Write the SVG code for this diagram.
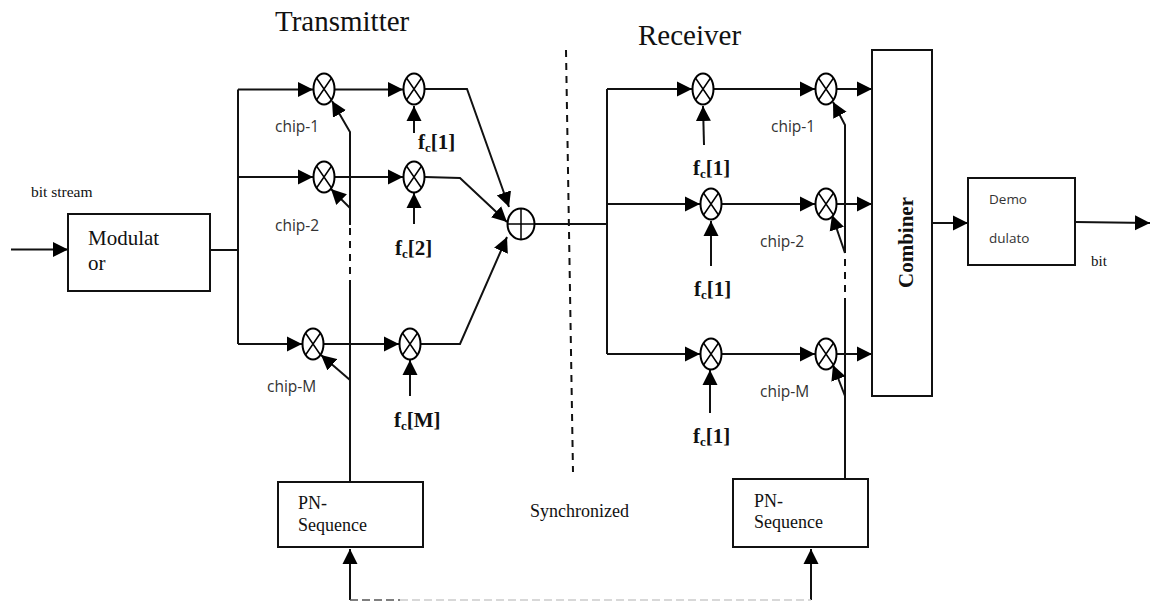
<svg xmlns="http://www.w3.org/2000/svg" width="1151" height="601" viewBox="0 0 1151 601">
<style>
.s{font-family:"Liberation Serif","Times New Roman",serif;fill:#111}
.c{font-family:"Open Sans","Noto Sans",sans-serif;font-size:15.500px;fill:#333}
.b{font-family:"Liberation Serif","Times New Roman",serif;font-weight:bold;font-size:21px;fill:#111}
.u{font-size:13px}
.box{fill:#fff;stroke:#111;stroke-width:2}
.mix{fill:#fff;stroke:#000;stroke-width:2}
.x{fill:none;stroke:#000;stroke-width:1.500}
.l{fill:none;stroke:#111;stroke-width:2}
.a{fill:none;stroke:#111;stroke-width:2;marker-end:url(#ah)}
.d{fill:none;stroke:#111;stroke-width:2;stroke-dasharray:7 6}
</style>
<defs>
<marker id="ah" markerUnits="userSpaceOnUse" markerWidth="16" markerHeight="16" refX="15" refY="8" orient="auto"><path d="M0 0.500L15 8L0 15.500Z" fill="#000"/></marker>
<g id="m"><ellipse class="mix" rx="10.500" ry="15.500"/><path class="x" d="M-7.500 -11L7.500 11M7.500 -11L-7.500 11"/></g>
</defs>
<rect width="1151" height="601" fill="#fff"/>
<g id="connectors">
<path class="a" d="M11 249.500H68"/>
<path class="l" d="M210 250H238M238 89.500V344"/>
<path class="a" d="M238 89.500H313"/><path class="a" d="M238 177H313"/><path class="a" d="M238 344H302"/>
<path class="a" d="M335 89.500H403"/><path class="a" d="M335 177H403"/><path class="a" d="M324 344H399"/>
<path class="a" d="M425 89H467L509 207"/>
<path class="a" d="M425 177L460 178L507 222"/>
<path class="a" d="M421 344H460L507 237"/>
<path class="a" d="M414 133V106"/><path class="a" d="M414 224V193"/><path class="a" d="M410 396V360"/>
<path class="l" d="M350 482V287"/><path class="d" d="M350 287V225"/><path class="a" d="M350 225V132L332 101"/>
<path class="a" d="M350 208L331 189"/><path class="a" d="M350 380L321 355"/>
<path class="l" d="M534 224H607M607 89V354"/>
<path class="a" d="M607 89H692"/><path class="a" d="M607 204H700"/><path class="a" d="M607 354H700"/>
<path class="a" d="M714 89H815"/><path class="a" d="M722 204H815"/><path class="a" d="M722 354H815"/>
<path class="a" d="M837 89H872"/><path class="a" d="M837 204H872"/><path class="a" d="M837 354H872"/>
<path class="a" d="M704 145L703 106"/><path class="a" d="M711 266V221"/><path class="a" d="M710 413V370"/>
<path class="l" d="M845 479V305"/><path class="d" d="M845 305V253"/><path class="a" d="M845 253V125L833 102"/>
<path class="a" d="M845 253L832 215"/><path class="a" d="M845 396L833 365"/>
<path class="d" d="M566 50L573 472"/>
<path class="a" d="M932 223H968"/><path class="a" d="M1075 222L1150 223"/>
<path class="a" d="M350 600V549"/><path class="a" d="M811 600V549"/>
<path d="M350 600H400" fill="none" stroke="#555" stroke-width="1.500" stroke-dasharray="8 4"/>
<path d="M400 600H811" fill="none" stroke="#ccc" stroke-width="1.500" stroke-dasharray="8 4"/>
</g>
<g id="modulator"><rect class="box" x="68" y="214" width="142" height="77"/><text class="s" font-size="21" x="88" y="245">Modulat</text><text class="s" font-size="21" x="88" y="270">or</text></g>
<g id="t-mix-1"><use href="#m" x="324" y="89"/></g>
<g id="t-mix-2"><use href="#m" x="414" y="89"/></g>
<g id="t-mix-3"><use href="#m" x="324" y="177"/></g>
<g id="t-mix-4"><use href="#m" x="414" y="177"/></g>
<g id="t-mix-5"><use href="#m" x="313" y="344"/></g>
<g id="t-mix-6"><use href="#m" x="410" y="344"/></g>
<g id="adder"><ellipse class="mix" cx="521" cy="224" rx="13.500" ry="15.500"/><path class="x" d="M507.500 224H534.500M521 208.500V239.500"/></g>
<g id="r-mix-1"><use href="#m" x="703" y="89"/></g>
<g id="r-mix-2"><use href="#m" x="826" y="89"/></g>
<g id="r-mix-3"><use href="#m" x="711" y="204"/></g>
<g id="r-mix-4"><use href="#m" x="826" y="204"/></g>
<g id="r-mix-5"><use href="#m" x="711" y="354"/></g>
<g id="r-mix-6"><use href="#m" x="826" y="354"/></g>
<g id="combiner"><rect class="box" x="872" y="50" width="60" height="346"/><text class="b" transform="translate(913 288) rotate(-90)">Combiner</text></g>
<g id="demodulator"><rect class="box" x="968" y="178" width="107" height="87"/><text class="c" style="font-size:13.500px" x="989" y="204">Demo</text><text class="c" style="font-size:13.500px" x="989" y="243">dulato</text></g>
<g id="pn-t"><rect class="box" x="278" y="482" width="145" height="65"/><text class="s" font-size="18" x="298" y="509">PN-</text><text class="s" font-size="18" x="298" y="531">Sequence</text></g>
<g id="pn-r"><rect class="box" x="733" y="479" width="135" height="68"/><text class="s" font-size="18" x="754" y="507">PN-</text><text class="s" font-size="18" x="754" y="528">Sequence</text></g>
<g id="labels">
<text class="s" font-size="29" x="275" y="31">Transmitter</text>
<text class="s" font-size="29" x="638" y="45">Receiver</text>
<text class="s" font-size="15.500" x="31" y="197">bit stream</text>
<text class="s" font-size="18" x="530" y="517">Synchronized</text>
<text class="s" font-size="15" x="1091" y="266">bit</text>
<text class="c" x="275" y="132">chip-1</text><text class="c" x="275" y="231">chip-2</text><text class="c" x="267" y="392">chip-M</text>
<text class="c" x="771" y="132">chip-1</text><text class="c" x="760" y="247">chip-2</text><text class="c" x="760" y="397">chip-M</text>
<text class="b" x="418" y="149">f<tspan class="u" dy="3">c</tspan><tspan dy="-3">[1]</tspan></text>
<text class="b" x="395" y="255">f<tspan class="u" dy="3">c</tspan><tspan dy="-3">[2]</tspan></text>
<text class="b" x="394" y="427">f<tspan class="u" dy="3">c</tspan><tspan dy="-3">[M]</tspan></text>
<text class="b" x="693" y="175">f<tspan class="u" dy="3">c</tspan><tspan dy="-3">[1]</tspan></text>
<text class="b" x="694" y="296">f<tspan class="u" dy="3">c</tspan><tspan dy="-3">[1]</tspan></text>
<text class="b" x="693" y="443">f<tspan class="u" dy="3">c</tspan><tspan dy="-3">[1]</tspan></text>
</g>
</svg>
